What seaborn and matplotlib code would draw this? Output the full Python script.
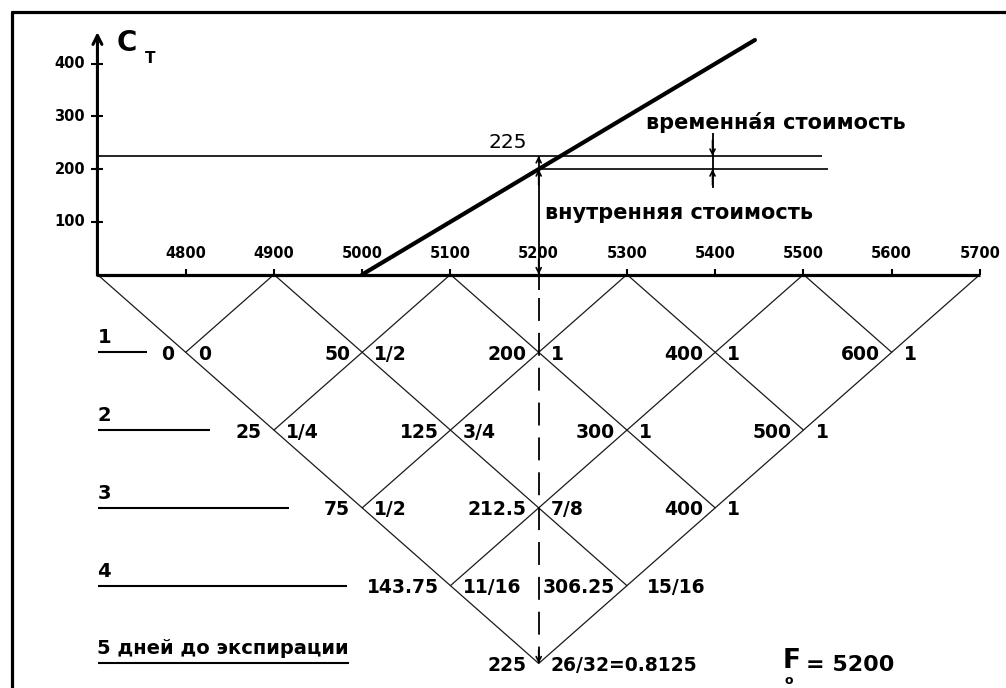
import numpy as np
import pandas as pd
import matplotlib
matplotlib.use("Agg")
import matplotlib.pyplot as plt
import seaborn as sns
from matplotlib.lines import Line2D

# ---------------- data ----------------
x_ticks = [4800, 4900, 5000, 5100, 5200, 5300, 5400, 5500, 5600, 5700]
y_ticks = [100, 200, 300, 400]
payoff_F = [5000, 5445]
payoff_C = [0, 445]
F0 = 5200
option_value = 225
intrinsic_value = 200
lattice_top = [4700, 4900, 5100, 5300, 5500, 5700]

row1_values = ["0", "50", "200", "400", "600"]
row1_probs = ["0", "1/2", "1", "1", "1"]
row2_values = ["25", "125", "300", "500"]
row2_probs = ["1/4", "3/4", "1", "1"]
row3_values = ["75", "212.5", "400"]
row3_probs = ["1/2", "7/8", "1"]
row4_values = ["143.75", "306.25"]
row4_probs = ["11/16", "15/16"]
row5_values = ["225"]
row5_probs = ["26/32=0.8125"]
row_labels = ["1", "2", "3", "4", "5 дней до экспирации"]
time_value_label = "временна\u0301я стоимость"
intrinsic_label = "внутренняя стоимость"
axis_label = "C"
axis_sub = "T"

# ---------------- layout ----------------
sns.set_theme(style="white")
plt.rcParams['font.family'] = ['DejaVu Sans']
plt.rcParams['lines.scale_dashes'] = False

fig = plt.figure(figsize=(10.06, 6.88), dpi=100)
ax = fig.add_axes([0, 0, 1, 1])
ax.set_xlim(4589.6, 5729.5)
ax.set_ylim(-784.6, 520.9)
ax.axis('off')

PX_X = 0.8826   # px per F unit
PX_Y = 0.527    # px per C unit
ROW = 147.6     # lattice row height (C units)
STEP = 100      # lattice half-step (F units)
left, right = lattice_top[0], lattice_top[-1]
k = 'black'

# frame (top and left visible)
fig.add_artist(Line2D([12/1006, 1.0], [1 - 11.5/688]*2, lw=2.3, color=k))
fig.add_artist(Line2D([12/1006]*2, [0, 1 - 11.5/688], lw=2.3, color=k))

# lattice lines
segs = []
sid = 0
for x0 in lattice_top[:-1]:
    t = (right - x0) / (2 * STEP)
    segs += [(sid, x0, 0.0), (sid, x0 + STEP * t, -ROW * t)]
    sid += 1
for x0 in lattice_top[1:]:
    t = (x0 - left) / (2 * STEP)
    segs += [(sid, x0, 0.0), (sid, x0 - STEP * t, -ROW * t)]
    sid += 1
lat = pd.DataFrame(segs, columns=["seg", "F", "C"])
sns.lineplot(data=lat, x="F", y="C", units="seg", estimator=None, sort=False,
             color="#1a1a1a", lw=0.9, ax=ax, legend=False)

# payoff line
pay = pd.DataFrame({"F": payoff_F, "C": payoff_C})
sns.lineplot(data=pay, x="F", y="C", color=k, lw=3.0, ax=ax, legend=False)

# axes
ax.plot([left, right], [0, 0], color=k, lw=2.3, solid_capstyle='butt')
ax.annotate('', xy=(left, 460), xytext=(left, -1.5),
            arrowprops=dict(arrowstyle='->', lw=2.2, color=k, mutation_scale=16,
                            shrinkA=0, shrinkB=0))
ax.vlines(x_ticks, 0, 6 / PX_Y, color=k, lw=1.5)
ax.hlines(y_ticks, left - 6 / PX_X, left + 6 / PX_X, color=k, lw=1.5)
for xt in x_ticks:
    ax.text(xt, 39, str(xt), ha='center', va='center', fontsize=10.5, weight='bold', color=k)
for yt in y_ticks:
    ax.text(4686, yt, str(yt), ha='right', va='center', fontsize=10.5, weight='bold', color=k)
ax.text(4722, 439, axis_label, ha='left', va='center', fontsize=20, weight='bold', color=k)
ax.text(4754, 410, axis_sub, ha='left', va='center', fontsize=11, weight='bold', color=k)

# value lines
ax.hlines(option_value, left, 5521, color=k, lw=1.2)
ax.hlines(intrinsic_value, F0, 5528, color=k, lw=1.2)
ax.vlines(F0, -29, option_value, color=k, lw=1.3)
ax.text(5165, 251, str(option_value), ha='center', va='center', fontsize=14.5, color=k)

def head(x, y_to, y_from):
    ax.annotate('', xy=(x, y_to), xytext=(x, y_from),
                arrowprops=dict(arrowstyle='->', lw=1.2, color=k, mutation_scale=9,
                                shrinkA=0, shrinkB=0))

head(F0, 0, 30)
head(F0, intrinsic_value, intrinsic_value - 30)
head(F0, option_value, option_value - 12)
tv_x = 5397
ax.vlines(tv_x, 164, 268, color=k, lw=1.3)
head(tv_x, option_value, option_value + 30)
head(tv_x, intrinsic_value, intrinsic_value - 30)

ax.text(5321.5, 289, time_value_label, ha='left', va='center', fontsize=15, weight='bold', color=k)
ax.text(5207, 117, intrinsic_label, ha='left', va='center', fontsize=15, weight='bold', color=k)

# dashed vertical at F0 down to apex
ax.plot([F0, F0], [-45, -ROW * 5], color=k, lw=1.3, linestyle=(0, (16.5, 8.6)))
head(F0, -ROW * 5, -ROW * 5 + 25)

# lattice labels
rows_v = [row1_values, row2_values, row3_values, row4_values, row5_values]
rows_p = [row1_probs, row2_probs, row3_probs, row4_probs, row5_probs]
gap = 12 / PX_X
dy = -2 / PX_Y
extra_right = {(4, 1): 8 / PX_X}
for r, (vals, probs) in enumerate(zip(rows_v, rows_p), start=1):
    for i, (v, p) in enumerate(zip(vals, probs)):
        xn = left + STEP * r + 2 * STEP * i
        yn = -ROW * r
        ax.text(xn - gap, yn + dy, v, ha='right', va='center', fontsize=13.5, weight='bold', color=k)
        ax.text(xn + gap + extra_right.get((r, i), 0), yn + dy, p, ha='left', va='center',
                fontsize=13.5, weight='bold', color=k)

# row labels with underlines
line_ends = [4756, 4827, 4917, 4983, 4985]
for r, (lab, xe) in enumerate(zip(row_labels, line_ends), start=1):
    yl = -ROW * r
    ax.hlines(yl, 4701, xe, color=k, lw=1.5)
    ax.text(4700, yl + 14.5 / PX_Y, lab, ha='left', va='center', fontsize=14, weight='bold', color=k)

# F0 label: F with subscript o placed beneath it
ax.text(5476.5, -746.7, "F", ha='left', va='baseline', fontsize=19, weight='bold', color=k)
ax.text(5478.5, -758.5, "o", ha='left', va='top', fontsize=9, weight='bold', color=k)
ax.text(5502.6, -741, "= " + str(F0), ha='left', va='center', fontsize=16, weight='bold', color=k)

fig.savefig("out.png", dpi=100, facecolor='white')
